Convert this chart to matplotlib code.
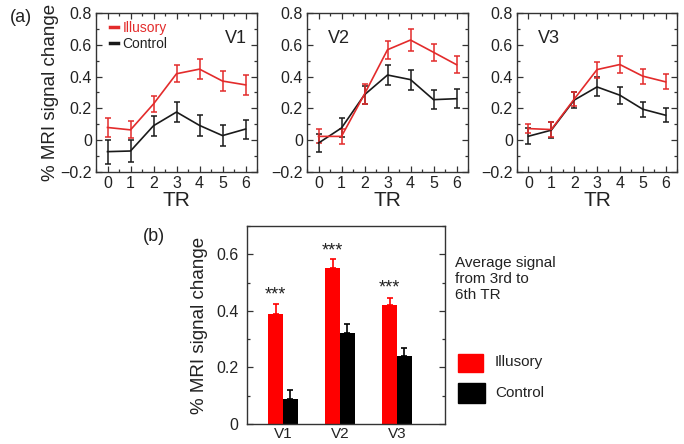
import numpy as np
import matplotlib.pyplot as plt
from matplotlib.ticker import MultipleLocator
from matplotlib.patches import Rectangle
from matplotlib.lines import Line2D

plt.rcParams['font.family'] = ['Liberation Sans', 'DejaVu Sans']

# ---- data: time courses (a) ----
tr = [0, 1, 2, 3, 4, 5, 6]
areas = ['V1', 'V2', 'V3']

illusory_mean = {
    'V1': [0.08, 0.065, 0.228, 0.418, 0.447, 0.372, 0.348],
    'V2': [0.024, 0.024, 0.29, 0.569, 0.63, 0.553, 0.475],
    'V3': [0.073, 0.067, 0.258, 0.444, 0.476, 0.403, 0.367],
}
illusory_err = {
    'V1': [0.057, 0.053, 0.05, 0.055, 0.065, 0.065, 0.065],
    'V2': [0.044, 0.045, 0.065, 0.058, 0.068, 0.055, 0.055],
    'V3': [0.03, 0.045, 0.045, 0.05, 0.052, 0.047, 0.048],
}
control_mean = {
    'V1': [-0.072, -0.068, 0.091, 0.177, 0.093, 0.029, 0.07],
    'V2': [-0.018, 0.077, 0.286, 0.41, 0.381, 0.255, 0.261],
    'V3': [0.025, 0.063, 0.252, 0.335, 0.283, 0.195, 0.157],
}
control_err = {
    'V1': [0.075, 0.07, 0.063, 0.062, 0.065, 0.068, 0.06],
    'V2': [0.055, 0.06, 0.057, 0.062, 0.063, 0.06, 0.06],
    'V3': [0.05, 0.05, 0.05, 0.06, 0.053, 0.047, 0.045],
}

# ---- data: averages (b) ----
bar_illusory = [0.388, 0.552, 0.421]
bar_illusory_err = [0.036, 0.032, 0.025]
bar_control = [0.089, 0.322, 0.241]
bar_control_err = [0.032, 0.03, 0.028]
stars_y = [0.455, 0.61, 0.48]

RED_LINE = '#e32b2b'
RED_BAR = '#ff0000'
TXT = '#222222'

fig = plt.figure(figsize=(6.84, 4.44), dpi=100)

line_axes_pos = [
    [96 / 684, 1 - 172 / 444, 161 / 684, 159 / 444],
    [307 / 684, 1 - 172 / 444, 161 / 684, 159 / 444],
    [517 / 684, 1 - 172 / 444, 160 / 684, 159 / 444],
]


def style_box(ax):
    for sp in ax.spines.values():
        sp.set_linewidth(1.0)
        sp.set_color('#333333')
    ax.tick_params(which='both', direction='in', top=True, right=True,
                   width=0.9, color='#333333', labelcolor=TXT)
    ax.tick_params(which='major', length=4.5, labelsize=11.5, pad=3)
    ax.tick_params(which='minor', length=2.5)


for i, area in enumerate(areas):
    ax = fig.add_axes(line_axes_pos[i])
    ax.errorbar(tr, control_mean[area], yerr=control_err[area], color='#1a1a1a',
                lw=1.2, elinewidth=1.1, capsize=2.2, capthick=1.1)
    ax.errorbar(tr, illusory_mean[area], yerr=illusory_err[area], color=RED_LINE,
                lw=1.2, elinewidth=1.1, capsize=2.2, capthick=1.1)
    ax.set_xlim(-0.5, 6.5)
    ax.set_ylim(-0.2, 0.8)
    ax.set_xticks(tr)
    ax.xaxis.set_minor_locator(MultipleLocator(0.5))
    ax.set_yticks([-0.2, 0, 0.2, 0.4, 0.6, 0.8])
    ax.set_yticklabels(['\u22120.2', '0', '0.2', '0.4', '0.6', '0.8'])
    ax.yaxis.set_minor_locator(MultipleLocator(0.1))
    style_box(ax)
    ax.set_xlabel('TR', fontsize=15, color=TXT, labelpad=0)
    if i == 0:
        ax.set_ylabel('% MRI signal change', fontsize=13.5, color=TXT, labelpad=1)
        ax.text(0.87, 0.84, area, transform=ax.transAxes, fontsize=13,
                ha='center', va='center', color=TXT)
        handles = [Line2D([], [], color=RED_LINE, lw=2.5),
                   Line2D([], [], color='#1a1a1a', lw=2.5)]
        leg = ax.legend(handles, ['Illusory', 'Control'], loc='upper left',
                        frameon=False, fontsize=10, handlelength=0.55,
                        handletextpad=0.3, borderaxespad=0.0, labelspacing=0.15,
                        borderpad=0.0, bbox_to_anchor=(0.09, 0.95))
        for txt, col in zip(leg.get_texts(), [RED_LINE, TXT]):
            txt.set_color(col)
    else:
        ax.text(0.2, 0.84, area, transform=ax.transAxes, fontsize=13,
                ha='center', va='center', color=TXT)

fig.text(10 / 684, 1 - 17 / 444, '(a)', fontsize=13, color=TXT, va='center')
fig.text(143 / 684, 1 - 236 / 444, '(b)', fontsize=13, color=TXT, va='center')

# ---- panel (b) ----
axb = fig.add_axes([247 / 684, 1 - 424 / 444, 198 / 684, 198 / 444])
x = np.arange(len(areas))
w = 0.26
axb.bar(x - w / 2, bar_illusory, w, color=RED_BAR)
axb.bar(x + w / 2, bar_control, w, color='black')
axb.errorbar(x - w / 2, bar_illusory, yerr=[np.zeros(3), bar_illusory_err],
             fmt='none', ecolor=RED_BAR, elinewidth=1.2, capsize=2.5, capthick=1.2)
axb.errorbar(x + w / 2, bar_control, yerr=[np.zeros(3), bar_control_err],
             fmt='none', ecolor='black', elinewidth=1.2, capsize=2.5, capthick=1.2)
for xi, sy in zip(x, stars_y):
    axb.text(xi - w / 2, sy, '***', ha='center', va='center', fontsize=13, color=TXT)
axb.set_xlim(-0.63, 2.84)
axb.set_ylim(0, 0.7)
axb.set_xticks(x)
axb.set_xticklabels(areas)
axb.set_yticks([0, 0.2, 0.4, 0.6])
axb.set_yticklabels(['0', '0.2', '0.4', '0.6'])
axb.yaxis.set_minor_locator(MultipleLocator(0.1))
for sp in axb.spines.values():
    sp.set_linewidth(1.0)
    sp.set_color('#333333')
axb.tick_params(axis='y', which='both', direction='in', right=True,
                width=0.9, color='#333333', labelcolor=TXT)
axb.tick_params(axis='y', which='major', length=4.5, labelsize=11.5, pad=6)
axb.tick_params(axis='y', which='minor', length=2.5)
axb.tick_params(axis='x', length=0, labelsize=11, labelcolor=TXT, pad=2)
axb.set_ylabel('% MRI signal change', fontsize=13.5, color=TXT, labelpad=6)

fig.text(455 / 684, 1 - 279 / 444, 'Average signal\nfrom 3rd to\n6th TR',
         fontsize=11, color=TXT, va='center', ha='left', linespacing=1.15)
fig.patches.append(Rectangle((458 / 684, 1 - 372 / 444), 25 / 684, 18 / 444,
                             transform=fig.transFigure, color=RED_BAR))
fig.patches.append(Rectangle((458 / 684, 1 - 403 / 444), 27 / 684, 20 / 444,
                             transform=fig.transFigure, color='black'))
fig.text(495 / 684, 1 - 362 / 444, 'Illusory', fontsize=11, color=TXT, va='center')
fig.text(495 / 684, 1 - 393 / 444, 'Control', fontsize=11, color=TXT, va='center')

fig.savefig('out.png', dpi=100)
